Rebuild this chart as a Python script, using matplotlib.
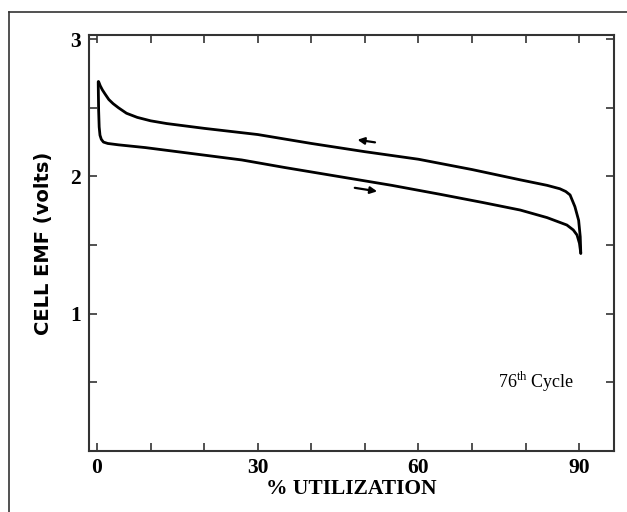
import numpy as np
import matplotlib
matplotlib.use("Agg")
import matplotlib.pyplot as plt
from matplotlib.lines import Line2D
from matplotlib.ticker import MultipleLocator, FixedLocator

# upper curve (charge, arrow pointing left)
charge_x = [0.3, 0.6, 1.0, 1.5, 2.2, 3.0, 4.0, 5.5, 7.5, 10, 13, 20, 30, 40, 50,
            60, 70, 79, 84, 86.4, 87.5, 88.3, 89.2, 89.9, 90.2, 90.3]
charge_y = [2.69, 2.66, 2.63, 2.60, 2.56, 2.53, 2.50, 2.46, 2.43, 2.405, 2.385, 2.35,
            2.305, 2.24, 2.18, 2.125, 2.05, 1.975, 1.935, 1.91, 1.89, 1.865, 1.78,
            1.68, 1.56, 1.44]

# lower curve (discharge, arrow pointing right)
discharge_x = [0.22, 0.25, 0.3, 0.4, 0.55, 0.8, 1.2, 2, 4, 9, 15, 20, 27, 35, 45,
               55, 64, 72, 79, 84, 87.7, 88.9, 89.6, 90.05, 90.3]
discharge_y = [2.69, 2.60, 2.48, 2.36, 2.30, 2.27, 2.25, 2.24, 2.23, 2.21, 2.18, 2.155,
               2.12, 2.065, 2.0, 1.935, 1.87, 1.81, 1.755, 1.70, 1.646, 1.61, 1.573,
               1.513, 1.44]

xtick_vals = [0, 30, 60, 90]
ytick_vals = [1, 2, 3]
cycle_note = "76$^{\\mathrm{th}}$ Cycle"

plt.rcParams['mathtext.fontset'] = 'custom'
plt.rcParams['mathtext.rm'] = 'Liberation Serif'

fig = plt.figure(figsize=(6.27, 5.12), dpi=100)
ax = fig.add_axes([89 / 627, 1 - 451 / 512, (614 - 89) / 627, (451 - 35) / 512])

ax.plot(charge_x, charge_y, color='black', lw=2.0, solid_joinstyle='round', solid_capstyle='round')
ax.plot(discharge_x, discharge_y, color='black', lw=2.0, solid_joinstyle='round', solid_capstyle='round')

# direction arrows
ax.annotate('', xy=(48.1, 2.27), xytext=(52.4, 2.245),
            arrowprops=dict(arrowstyle='-|>', color='black', lw=1.6, mutation_scale=10))
ax.annotate('', xy=(52.8, 1.888), xytext=(47.6, 1.92),
            arrowprops=dict(arrowstyle='-|>', color='black', lw=1.6, mutation_scale=10))

ax.text(74.8, 0.50, cycle_note, fontsize=13, family='Liberation Serif', va='center', ha='left')

ax.set_xlim(-1.5, 96.5)
ax.set_ylim(0, 3.03)

ax.xaxis.set_major_locator(FixedLocator(xtick_vals))
ax.xaxis.set_minor_locator(MultipleLocator(10))
ax.yaxis.set_major_locator(FixedLocator(ytick_vals))
ax.yaxis.set_minor_locator(FixedLocator([0.5, 1.5, 2.5]))

ax.tick_params(which='both', direction='in', top=True, right=True, width=1.2, color='#333333')
ax.tick_params(which='major', length=6)
ax.tick_params(which='minor', length=6)
ax.tick_params(axis='x', pad=5)
ax.tick_params(axis='y', pad=6)

for lab in ax.get_xticklabels() + ax.get_yticklabels():
    lab.set_family('Liberation Serif')
    lab.set_fontweight('bold')
    lab.set_fontsize(15.5)

for sp in ax.spines.values():
    sp.set_linewidth(1.5)
    sp.set_color('#333333')

ax.set_xlabel('% UTILIZATION', family='Liberation Serif', fontweight='bold', fontsize=15.5, labelpad=1)
ax.set_ylabel('CELL EMF (volts)', family='DejaVu Sans', fontweight='bold', fontsize=14, labelpad=12)

# outer frame (left and top edges only)
fig.add_artist(Line2D([9 / 627, 9 / 627], [0, 1 - 12 / 512], transform=fig.transFigure,
                      color='#333333', lw=1.2))
fig.add_artist(Line2D([9 / 627, 1], [1 - 12 / 512, 1 - 12 / 512], transform=fig.transFigure,
                      color='#333333', lw=1.2))

fig.savefig('out.png', dpi=100)
